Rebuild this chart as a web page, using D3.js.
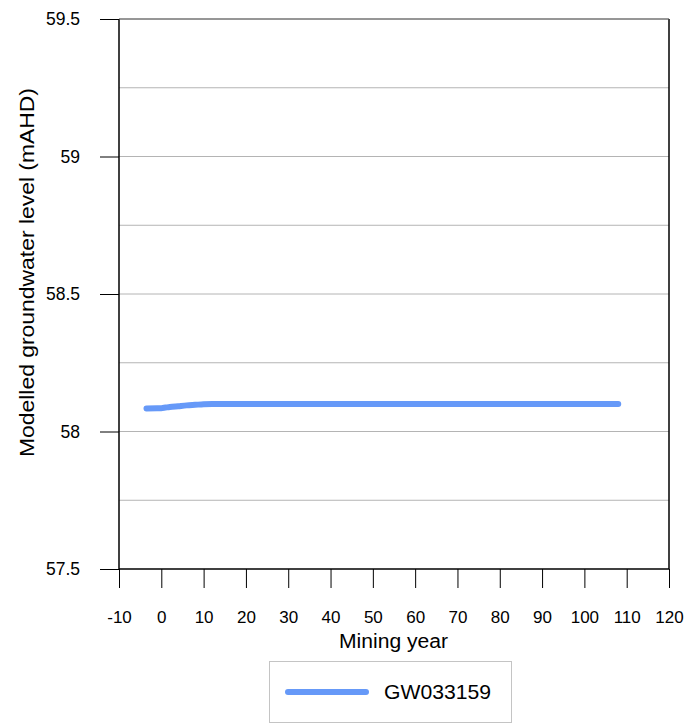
<!DOCTYPE html>
<html><head><meta charset="utf-8">
<script src="https://cdn.jsdelivr.net/npm/d3@7"></script>
<style>body{margin:0;background:#fff;}text{font-family:"Liberation Sans",Arial,sans-serif;fill:#000;}</style>
</head><body><svg id="c" width="691" height="728"></svg>
<script>
const years = [-3.5,-1,0,1,2,4,6,8,10,12,15,20,30,40,50,60,70,80,90,100,108];
const levels = [58.084,58.085,58.085,58.087,58.089,58.092,58.095,58.097,58.099,58.100,58.100,58.100,58.100,58.100,58.100,58.100,58.100,58.100,58.100,58.100,58.100];
const xTicks = [-10,0,10,20,30,40,50,60,70,80,90,100,110,120];
const yTicks = [57.5,58,58.5,59,59.5];
const yGrid = [57.75,58,58.25,58.5,58.75,59,59.25,59.5];
const seriesName = "GW033159";

const svg = d3.select("#c");
const L=119,R=669,T=19,B=569;
const x = d3.scaleLinear().domain([-10,120]).range([L,R]);
const y = d3.scaleLinear().domain([57.5,59.5]).range([B,T]);
const blue = "#6699f8";

svg.append("g").selectAll("line").data(yGrid).join("line")
  .attr("x1",L).attr("x2",R).attr("y1",d=>y(d)).attr("y2",d=>y(d))
  .attr("stroke","#b4b4b4").attr("stroke-width",1);

const ya = svg.append("g").attr("transform",`translate(${L},0)`)
  .call(d3.axisLeft(y).tickValues(yTicks).tickSize(19).tickPadding(20).tickFormat(d=>String(d)));
ya.select(".domain").remove();
ya.selectAll("line").attr("stroke","#000");
ya.selectAll("text").style("font-size","17.5px").attr("font-family","Liberation Sans, Arial, sans-serif");

const xa = svg.append("g").attr("transform",`translate(0,${B})`)
  .call(d3.axisBottom(x).tickValues(xTicks).tickSize(19).tickPadding(23).tickFormat(d=>String(d)));
xa.select(".domain").remove();
xa.selectAll("line").attr("stroke","#000");
xa.selectAll("text").style("font-size","17px").attr("font-family","Liberation Sans, Arial, sans-serif");

svg.append("line").attr("x1",L).attr("x2",L).attr("y1",T).attr("y2",B).attr("stroke","#000").attr("stroke-width",1.5);
svg.append("line").attr("x1",R).attr("x2",R).attr("y1",T).attr("y2",B).attr("stroke","#000").attr("stroke-width",1.5);
svg.append("line").attr("x1",L).attr("x2",R).attr("y1",B).attr("y2",B).attr("stroke","#000").attr("stroke-width",1.5);
svg.append("line").attr("x1",L).attr("x2",R).attr("y1",T).attr("y2",T).attr("stroke","#555").attr("stroke-width",1);

const line = d3.line().x((d,i)=>x(years[i])).y(d=>y(d)).curve(d3.curveMonotoneX);
svg.append("path").attr("d",line(levels)).attr("fill","none")
  .attr("stroke",blue).attr("stroke-width",6).attr("stroke-linecap","round").attr("stroke-linejoin","round");

svg.append("text").attr("x",393.5).attr("y",648).attr("text-anchor","middle").style("font-size","20px")
  .attr("textLength",109).attr("lengthAdjust","spacingAndGlyphs").text("Mining year");
svg.append("text").attr("transform","translate(34,272.5) rotate(-90)").attr("text-anchor","middle").style("font-size","20px")
  .attr("textLength",369).attr("lengthAdjust","spacingAndGlyphs").text("Modelled groundwater level (mAHD)");

svg.append("rect").attr("x",269.5).attr("y",661.5).attr("width",242).attr("height",61).attr("fill","#fff").attr("stroke","#c4c4c4");
svg.append("line").attr("x1",288).attr("x2",366).attr("y1",692).attr("y2",692).attr("stroke",blue).attr("stroke-width",6).attr("stroke-linecap","round");
svg.append("text").attr("x",384).attr("y",699).style("font-size","21px")
  .attr("textLength",107).attr("lengthAdjust","spacingAndGlyphs").text(seriesName);
</script></body></html>
